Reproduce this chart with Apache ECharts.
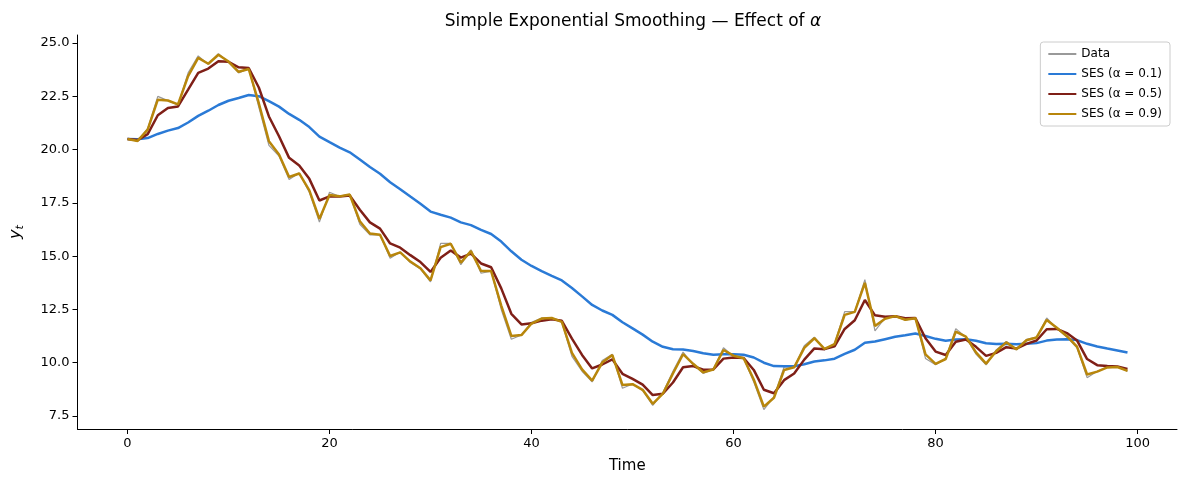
<!DOCTYPE html>
<html><head><meta charset="utf-8">
<script src="https://cdn.jsdelivr.net/npm/echarts@6/dist/echarts.min.js"></script>
<style>html,body{margin:0;padding:0;background:#fff}#c{width:1187px;height:487px}</style>
</head><body><div id="c"></div>
<script>
var data = [20.5,20.4,21.0,22.5,22.3,22.1,23.6,24.4,24.0,24.5,24.1,23.6,23.8,22.0,20.2,19.7,18.6,18.9,18.0,16.6,
  18.0,17.8,17.9,16.5,16.0,16.0,14.9,15.2,14.7,14.4,13.8,15.6,15.6,14.6,15.3,14.2,14.3,12.5,11.1,11.3,
  11.9,12.1,12.1,11.9,10.3,9.6,9.1,10.1,10.4,8.8,9.0,8.7,8.0,8.6,9.6,10.5,9.9,9.5,9.7,10.7,
  10.3,10.2,9.1,7.8,8.4,9.8,9.8,10.8,11.2,10.6,10.9,12.4,12.4,13.9,11.5,12.1,12.2,12.0,12.1,10.2,
  9.9,10.2,11.6,11.2,10.4,9.9,10.6,11.0,10.6,11.1,11.2,12.1,11.6,11.2,10.7,9.3,9.6,9.8,9.8,9.6];
var alphas = [0.1, 0.5, 0.9];
var colors = ['#2a7ad6', '#7f1f17', '#b8860b'];
var xTicks = [0, 20, 40, 60, 80, 100];
var yTicks = [7.5, 10.0, 12.5, 15.0, 17.5, 20.0, 22.5, 25.0];

function ses(y, a) {
  var out = [y[0]];
  for (var i = 1; i < y.length; i++) out.push(a * y[i] + (1 - a) * out[i - 1]);
  return out;
}
function pairs(v) { return v.map(function (d, i) { return [i, d]; }); }

var series = [{
  name: 'Data', type: 'line', data: pairs(data), showSymbol: false,
  lineStyle: { color: '#999', width: 1.2 }, itemStyle: { color: '#999' }, z: 1
}];
alphas.forEach(function (a, k) {
  series.push({
    name: 'SES (α = ' + a + ')', type: 'line', data: pairs(ses(data, a)), showSymbol: false,
    lineStyle: { color: colors[k], width: 2.5 }, itemStyle: { color: colors[k] }, z: 2 + k
  });
});

var chart = echarts.init(document.getElementById('c'));
chart.setOption({
  animation: false,
  textStyle: { fontFamily: 'DejaVu Sans' },
  title: {
    text: 'Simple Exponential Smoothing — Effect of {i|α}', left: 628, top: 8, textAlign: 'center',
    textStyle: { fontSize: 17, fontWeight: 'normal', color: '#000',
      rich: { i: { fontSize: 17, fontStyle: 'italic', color: '#000' } } }
  },
  legend: {
    orient: 'vertical', right: 17, top: 42, itemWidth: 28, itemHeight: 2, itemGap: 8,
    padding: [6, 8, 6, 8], borderColor: '#ccc', borderWidth: 1, borderRadius: 3,
    icon: 'rect', textStyle: { fontSize: 12, color: '#000' },
    data: series.map(function (s) { return s.name; })
  },
  grid: { left: 77, right: 10, top: 35, bottom: 58 },
  xAxis: {
    type: 'value', min: -4.95, max: 103.9,
    name: 'Time', nameLocation: 'middle', nameGap: 30, nameTextStyle: { fontSize: 15, color: '#000' },
    splitLine: { show: false },
    axisLine: { onZero: false, lineStyle: { color: '#000' } },
    axisTick: { customValues: xTicks, lineStyle: { color: '#000' } },
    axisLabel: { customValues: xTicks, fontSize: 13, color: '#000' }
  },
  yAxis: {
    type: 'value', min: 6.89, max: 25.38,
    name: '{i|y}{s|t}', nameLocation: 'middle', nameGap: 52, nameRotate: 90,
    nameTextStyle: { rich: { i: { fontSize: 16, fontStyle: 'italic', color: '#000' },
      s: { fontSize: 11, fontStyle: 'italic', color: '#000', verticalAlign: 'bottom', padding: [8, 0, 0, 0] } } },
    splitLine: { show: false },
    axisLine: { show: true, onZero: false, lineStyle: { color: '#000' } },
    axisTick: { show: true, customValues: yTicks, lineStyle: { color: '#000' } },
    axisLabel: { customValues: yTicks, fontSize: 13, color: '#000',
      formatter: function (v) { return v.toFixed(1); } }
  },
  series: series
});
</script></body></html>
